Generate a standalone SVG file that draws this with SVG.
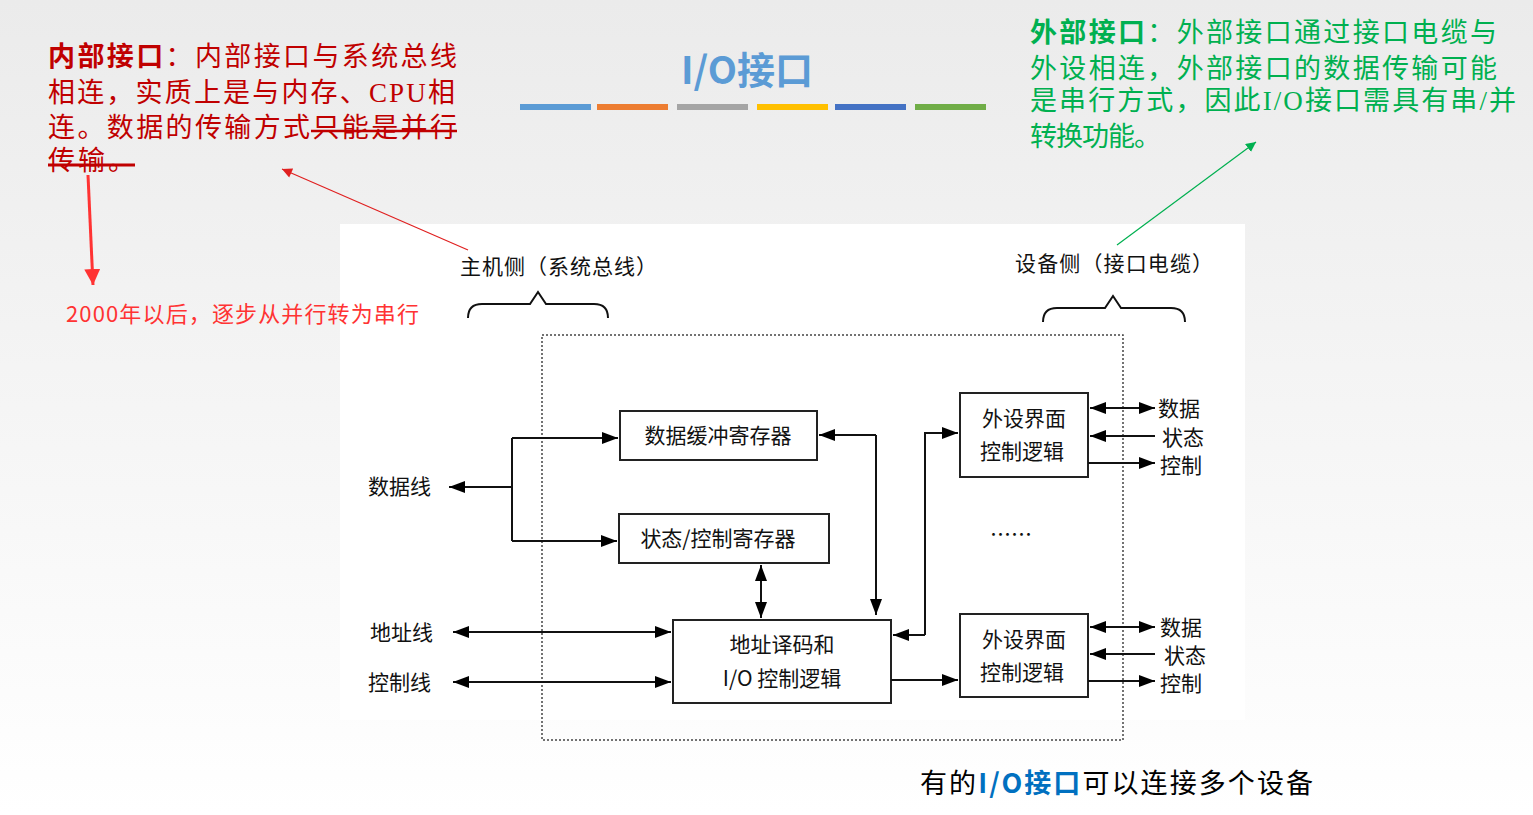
<svg xmlns="http://www.w3.org/2000/svg" width="1533" height="815" viewBox="0 0 1533 815">
<defs>
<linearGradient id="bg" x1="0" y1="0" x2="0" y2="1"><stop offset="0" stop-color="#ebebeb"/><stop offset="1" stop-color="#ffffff"/></linearGradient>
<marker id="a" viewBox="0 0 10 10" refX="10" refY="5" markerWidth="10" markerHeight="10" markerUnits="userSpaceOnUse" orient="auto-start-reverse"><path d="M0,0L10,5L0,10z" fill="#000"/></marker>
<marker id="b" viewBox="0 0 16 12" refX="16" refY="6" markerWidth="16" markerHeight="12" markerUnits="userSpaceOnUse" orient="auto-start-reverse"><path d="M0,0L16,6L0,12z" fill="#000"/></marker>
<marker id="r" viewBox="0 0 10 10" refX="10" refY="5" markerWidth="12" markerHeight="10" markerUnits="userSpaceOnUse" orient="auto"><path d="M0,0L10,5L0,10z" fill="#e02020"/></marker>
<marker id="R" viewBox="0 0 10 10" refX="10" refY="5" markerWidth="16" markerHeight="16" markerUnits="userSpaceOnUse" orient="auto"><path d="M0,0L10,5L0,10z" fill="#ff3333"/></marker>
<marker id="g" viewBox="0 0 10 10" refX="10" refY="5" markerWidth="10" markerHeight="10" markerUnits="userSpaceOnUse" orient="auto"><path d="M0,0L10,5L0,10z" fill="#00b050"/></marker>
</defs>
<style>
.s{font-family:"Liberation Serif","Noto Sans CJK SC",serif;font-size:27px}
.d{font-family:"Noto Sans CJK SC",sans-serif;font-size:21px;fill:#111}
.box{fill:#fff;stroke:#222;stroke-width:2}
.ln{fill:none;stroke:#111;stroke-width:2}
</style>
<rect width="1533" height="815" fill="url(#bg)"/>
<rect x="340" y="224" width="905" height="496" fill="#fff"/>
<text x="747" y="84" text-anchor="middle" font-family="Noto Sans CJK SC,sans-serif" font-size="38" font-weight="bold" fill="#5b9bd5">I/O接口</text>
<g>
<rect x="520" y="104" width="71" height="6" fill="#5b9bd5"/><rect x="597" y="104" width="71" height="6" fill="#ed7d31"/><rect x="677" y="104" width="71" height="6" fill="#a5a5a5"/><rect x="757" y="104" width="71" height="6" fill="#ffc000"/><rect x="835" y="104" width="71" height="6" fill="#4472c4"/><rect x="915" y="104" width="71" height="6" fill="#70ad47"/>
</g>
<g class="s" fill="#c00000">
<text x="48" y="66" textLength="409" lengthAdjust="spacing"><tspan font-weight="bold">内部接口</tspan>：内部接口与系统总线</text>
<text x="48" y="102" textLength="407" lengthAdjust="spacing">相连，实质上是与内存、CPU相</text>
<text x="48" y="137" textLength="409" lengthAdjust="spacing">连。数据的传输方式只能是并行</text>
<text x="48" y="170" textLength="87" lengthAdjust="spacing">传输。</text>
</g>
<line x1="311" y1="131" x2="457" y2="131" stroke="#c00000" stroke-width="2.5"/>
<line x1="48" y1="165" x2="135" y2="165" stroke="#c00000" stroke-width="3"/>
<line x1="88" y1="175" x2="93" y2="285" stroke="#ff3333" stroke-width="3" marker-end="url(#R)"/>
<text x="66" y="322" font-family="Noto Sans CJK SC,sans-serif" font-size="22" fill="#ff3333" textLength="353" lengthAdjust="spacing">2000年以后，逐步从并行转为串行</text>
<line x1="468" y1="250" x2="282" y2="169" stroke="#e02020" stroke-width="1.2" marker-end="url(#r)"/>
<g class="s" fill="#00b050">
<text x="1030" y="42" textLength="467" lengthAdjust="spacing"><tspan font-weight="bold">外部接口</tspan>：外部接口通过接口电缆与</text>
<text x="1030" y="78" textLength="467" lengthAdjust="spacing">外设相连，外部接口的数据传输可能</text>
<text x="1030" y="110" textLength="486" lengthAdjust="spacing">是串行方式，因此I/O接口需具有串/并</text>
<text x="1030" y="146" textLength="131" lengthAdjust="spacing">转换功能。</text>
</g>
<line x1="1117" y1="245" x2="1256" y2="142" stroke="#00b050" stroke-width="1.2" marker-end="url(#g)"/>
<text x="920" y="793" font-family="Noto Sans CJK SC,sans-serif" font-size="27" fill="#000" textLength="393" lengthAdjust="spacing">有的<tspan fill="#0070c0" font-weight="bold">I/O接口</tspan>可以连接多个设备</text>

<text class="d" x="460" y="274" textLength="197" lengthAdjust="spacing">主机侧（系统总线）</text>
<text class="d" x="1015" y="271" textLength="198" lengthAdjust="spacing">设备侧（接口电缆）</text>
<path class="ln" stroke-width="1.5" d="M468,318q0,-14 14,-14H530l8,-12l8,12H594q14,0 14,14"/>
<path class="ln" stroke-width="1.5" d="M1043,322q0,-14 14,-14H1105l8,-12l8,12H1171q14,0 14,14"/>
<rect x="542" y="335" width="581" height="405" fill="none" stroke="#444" stroke-width="1.5" stroke-dasharray="2,2"/>

<g id="n1"><rect class="box" x="620" y="411" width="197" height="49"/><text class="d" x="718" y="443" text-anchor="middle" font-size="22">数据缓冲寄存器</text></g>
<g id="n2"><rect class="box" x="619" y="514" width="210" height="49"/><text class="d" x="718" y="546" text-anchor="middle" font-size="22">状态/控制寄存器</text></g>
<g id="n3"><rect class="box" x="673" y="620" width="218" height="83"/><text class="d" x="782" y="652" text-anchor="middle" font-size="22">地址译码和</text><text class="d" x="782" y="686" text-anchor="middle" font-size="22">I/O 控制逻辑</text></g>
<g id="n4"><rect class="box" x="960" y="393" width="128" height="84"/><text class="d" x="1024" y="426" text-anchor="middle" font-size="23">外设界面</text><text class="d" x="1022" y="459" text-anchor="middle" font-size="23">控制逻辑</text></g>
<g id="n5"><rect class="box" x="960" y="614" width="128" height="83"/><text class="d" x="1024" y="647" text-anchor="middle" font-size="23">外设界面</text><text class="d" x="1022" y="680" text-anchor="middle" font-size="23">控制逻辑</text></g>
<g class="d" font-size="22"><text x="368" y="494">数据线</text><text x="370" y="640">地址线</text><text x="368" y="690">控制线</text>
<text x="1158" y="416">数据</text><text x="1162" y="445">状态</text><text x="1160" y="473">控制</text>
<text x="1160" y="635">数据</text><text x="1164" y="663">状态</text><text x="1160" y="691">控制</text>
<text x="990" y="542">……</text></g>

<g id="connectors" class="ln">
<path d="M512,487H449" marker-end="url(#b)"/>
<path d="M512,438V541"/>
<path d="M512,438H618" marker-end="url(#b)"/>
<path d="M512,541H617" marker-end="url(#b)"/>
<path d="M876,435H819" marker-end="url(#b)"/>
<path d="M876,435V615" marker-end="url(#b)"/>
<path d="M761,565V618" marker-start="url(#b)" marker-end="url(#b)"/>
<path d="M453,632H671" marker-start="url(#b)" marker-end="url(#b)"/>
<path d="M453,682H671" marker-start="url(#b)" marker-end="url(#b)"/>
<path d="M925,635H893" marker-end="url(#b)"/>
<path d="M925,635V433H958" marker-end="url(#b)"/>
<path d="M891,680H958" marker-end="url(#b)"/>
<path d="M1090,408H1155" marker-start="url(#b)" marker-end="url(#b)"/>
<path d="M1155,436H1090" marker-end="url(#b)"/>
<path d="M1088,463H1155" marker-end="url(#b)"/>
<path d="M1090,627H1155" marker-start="url(#b)" marker-end="url(#b)"/>
<path d="M1155,654H1090" marker-end="url(#b)"/>
<path d="M1088,681H1155" marker-end="url(#b)"/>
</g>
</svg>
